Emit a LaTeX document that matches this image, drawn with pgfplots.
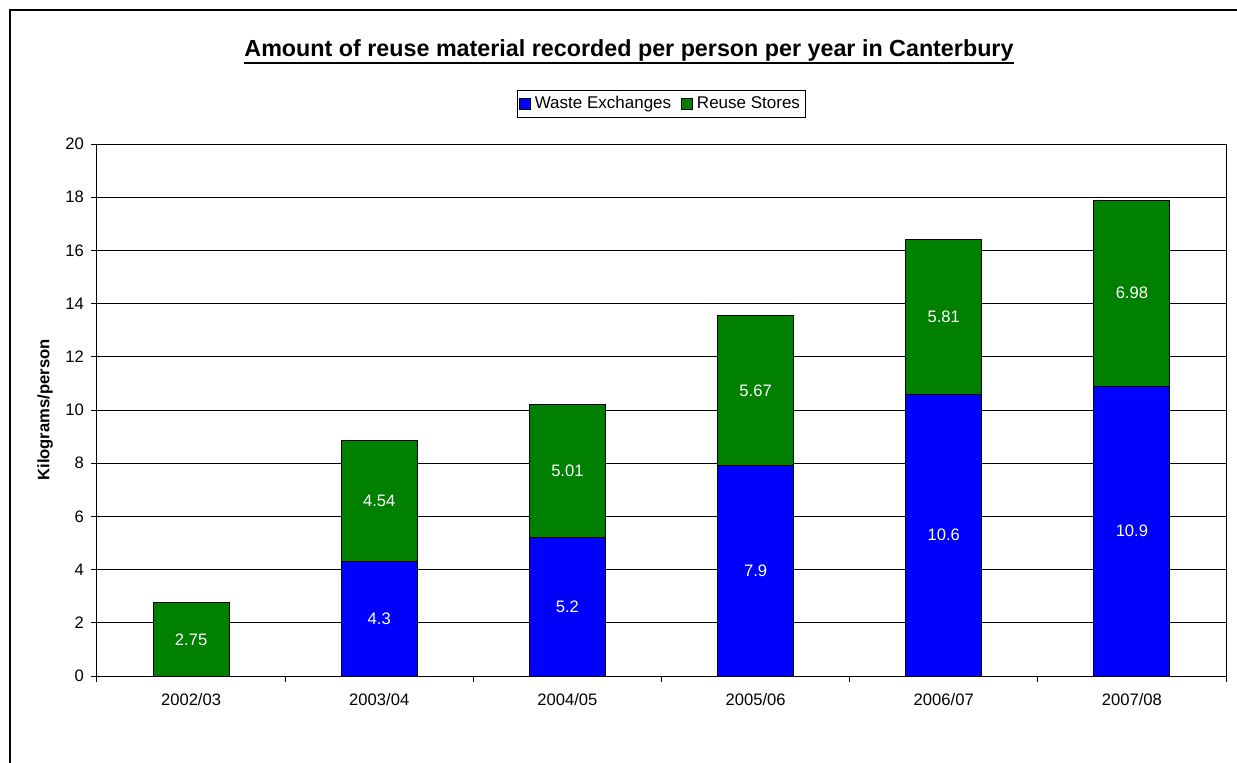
\documentclass[border=0pt]{standalone}
\usepackage{pgfplots}
\pgfplotsset{compat=1.18}
\usepackage{pgfplotstable}
\usepackage{fontspec}
\setmainfont{Liberation Sans}
\definecolor{webl}{HTML}{0000FF}
\definecolor{regr}{HTML}{008000}

% kg per person: waste exchanges (we), reuse stores (rs)
\pgfplotstableread{
x we rs
0 0 2.75
1 4.3 4.54
2 5.2 5.01
3 7.9 5.67
4 10.6 5.81
5 10.9 6.98
}\reusedata

\begin{document}
\begin{tikzpicture}
\begin{axis}[
  scale only axis, width=564.5pt, height=266pt,
  ybar stacked, bar width=38pt,
  xmin=-0.5, xmax=5.5, ymin=0, ymax=20,
  ytick={0,2,...,20},
  xtick={0,...,5},
  xticklabels={2002/03,2003/04,2004/05,2005/06,2006/07,2007/08},
  minor xtick={-0.5,0.5,...,5.5},
  xtick pos=bottom, ytick pos=left,
  tick align=outside, major tick length=3pt, minor tick length=3pt,
  x tick style={draw=none}, minor x tick style={draw=black},
  tick style={black, line width=0.5pt},
  axis line style={line width=0.5pt},
  ymajorgrids, grid style={black, line width=0.5pt},
  tick label style={font=\fontsize{8.3}{10}\selectfont},
  xticklabel style={yshift=-2pt},
  /pgf/number format/assume math mode=true,
  ylabel={Kilograms/person},
  ylabel style={font=\fontsize{8.3}{10}\selectfont\bfseries, at={(axis description cs:-0.046,0.5)}, anchor=center},
  legend columns=2,
  legend style={at={(0.5,1.075)}, anchor=center, draw=black, line width=0.5pt,
    font=\fontsize{8.5}{10}\selectfont, inner sep=1pt,
    /tikz/every even column/.append style={column sep=3pt}},
  legend image code/.code={\draw[#1, draw=black, line width=0.4pt] (0pt,-2.75pt) rectangle (5.5pt,2.75pt);},
  nodes near coords={\pgfmathfloatifflags{\pgfplotspointmeta}{0}{}{\pgfmathprintnumber{\pgfplotspointmeta}}},
  every node near coord/.style={anchor=center, text=white, font=\fontsize{8.3}{10}\selectfont},
]
\addplot[fill=webl, draw=black, line width=0.5pt, point meta=\thisrow{we}]
  table[x=x, y=we]{\reusedata};
\addlegendentry{Waste Exchanges}
\addplot[fill=regr, draw=black, line width=0.5pt, point meta=\thisrow{rs}]
  table[x=x, y=rs]{\reusedata};
\addlegendentry{Reuse Stores}
\end{axis}
\draw[line width=1.3pt] (-43.5pt,333pt) rectangle (800pt,-300pt);
\node[font=\fontsize{11.65}{13}\selectfont\bfseries, inner sep=0pt, anchor=base] (title) at (266pt,309.5pt) {Amount of reuse material recorded per person per year in Canterbury};
\draw[line width=1.3pt] ([yshift=-3pt]title.base west) -- ([yshift=-3pt]title.base east);
\pgfresetboundingbox
\useasboundingbox (-48.5pt,338pt) rectangle (570pt,-43pt);
\end{tikzpicture}
\end{document}
